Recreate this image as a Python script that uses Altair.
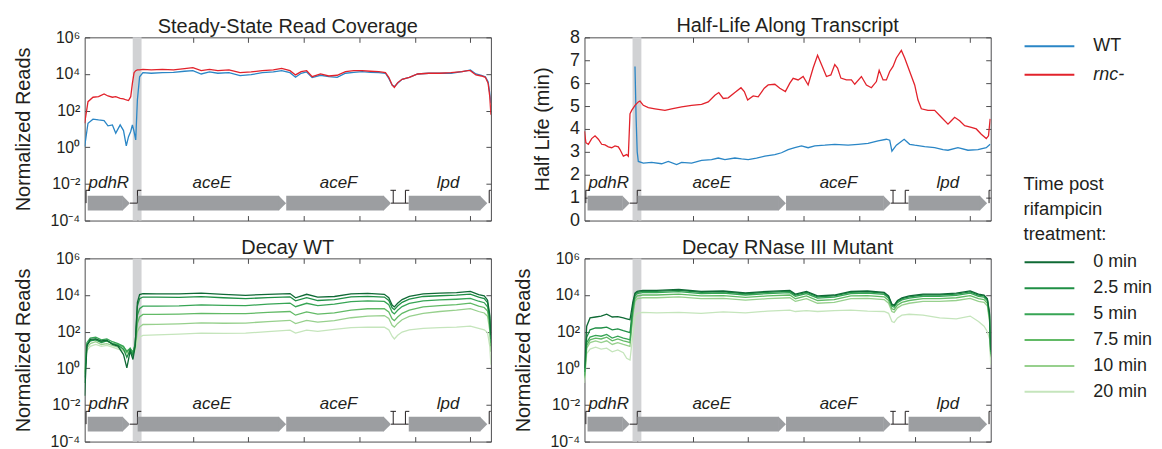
import altair as alt
import pandas as pd

FONT = "Liberation Sans"
TXT = "#231f20"
FRAME = "#4d4d4f"
BLUE = "#2a86c6"
RED = "#e2222b"
GREY = "#9c9ea1"
BAND = "#d1d2d4"
GREENS = ["#0f6a35", "#1f8f45", "#37a555", "#62ba66", "#97d08d", "#c5e5bc"]

# ---------------- labels / annotation data ----------------
strain_labels = ["WT", "rnc-"]
time_labels = ["0 min", "2.5 min", "5 min", "7.5 min", "10 min", "20 min"]
panel_titles = ["Steady-State Read Coverage", "Half-Life Along Transcript",
                "Decay WT", "Decay RNase III Mutant"]

gene_names = ["pdhR", "aceE", "aceF", "lpd"]
gene_start = [55, 955, 3632, 5840]
gene_end = [815, 3630, 5520, 7255]
band_start = [866]
band_end = [1025]
linker_start = [815, 5520]
linker_end = [955, 5840]
promoter_pos = [25, 951, 5780]
terminator_pos = [5560]
end_mark_pos = [7290]
x_ticks = [950, 1950, 2950, 3950, 4950, 5950, 6950]
log_ticks = [1e-4, 1e-2, 1, 1e2, 1e4, 1e6]
hl_ticks = [0, 1, 2, 3, 4, 5, 6, 7, 8]

# ---------------- Steady state (log10 normalized reads) ----------------
tl_x = [0, 60, 150, 250, 350, 420, 500, 560, 640, 700,
        750, 790, 830, 860, 890, 920, 950, 990, 1050, 1200,
        1400, 1600, 1800, 1950, 2100, 2250, 2400, 2600, 2800, 3000,
        3200, 3400, 3550, 3700, 3800, 3900, 4000, 4100, 4250, 4400,
        4550, 4700, 4850, 5000, 5150, 5300, 5420, 5480, 5540, 5580,
        5640, 5720, 5850, 6000, 6200, 6400, 6600, 6800, 6900, 6950,
        7050, 7150, 7220, 7270, 7300, 7320]
tl_rnc = [1.31, 2.49, 2.73, 2.76, 2.91, 2.80, 2.73, 2.76, 2.67, 2.64,
          2.58, 2.55, 2.76, 3.49, 4.07, 4.18, 4.22, 4.22, 4.25, 4.22,
          4.25, 4.22, 4.29, 4.35, 4.18, 4.25, 4.18, 4.22, 4.07, 4.11,
          4.18, 4.22, 4.31, 4.18, 3.95, 4.13, 4.18, 3.85, 4.00, 3.89,
          3.93, 4.13, 4.18, 4.18, 4.15, 4.13, 4.07, 3.82, 3.40, 3.27,
          3.53, 3.71, 3.82, 4.00, 4.04, 4.04, 4.07, 4.13, 4.18, 4.18,
          3.95, 3.89, 3.82, 3.49, 2.76, 1.77]
tl_wt = [0.04, 1.31, 1.53, 1.49, 1.46, 1.17, 1.22, 0.77, 1.22, 0.91,
         0.08, 0.58, 0.86, 1.22, 0.86, 0.40, 2.58, 3.85, 4.07, 4.04,
         4.07, 4.09, 4.15, 4.18, 4.00, 4.11, 4.04, 4.07, 3.91, 3.96,
         4.07, 4.11, 4.18, 4.07, 3.82, 4.04, 4.11, 3.80, 3.93, 3.85,
         3.82, 4.04, 4.09, 4.13, 4.09, 4.07, 4.04, 3.76, 3.40, 3.31,
         3.49, 3.71, 3.82, 4.00, 4.04, 4.04, 4.04, 4.13, 4.18, 4.22,
         4.00, 3.93, 3.85, 3.58, 2.95, 2.40]

# ---------------- Half-life (min) ----------------
tr_rnc_x = [0, 25, 70, 130, 190, 250, 310, 370, 430, 490,
            550, 610, 640, 700, 760, 790, 820, 850, 910, 970,
            1000, 1060, 1150, 1270, 1450, 1570, 1750, 1930, 2110, 2230,
            2350, 2420, 2500, 2590, 2710, 2820, 2880, 2940, 3040, 3130,
            3240, 3310, 3430, 3520, 3620, 3700, 3760, 3850, 3940, 4030,
            4120, 4200, 4270, 4360, 4440, 4510, 4560, 4620, 4720, 4810,
            4870, 4990, 5080, 5170, 5260, 5310, 5380, 5440, 5500, 5560,
            5620, 5710, 5770, 5860, 5950, 6010, 6070, 6190, 6310, 6430,
            6550, 6610, 6670, 6760, 6850, 6970, 7060, 7150, 7240, 7280,
            7310]
tr_rnc = [3.90, 3.40, 3.33, 3.58, 3.70, 3.55, 3.33, 3.30, 3.22, 3.18,
          3.26, 3.22, 3.10, 2.81, 2.88, 2.81, 4.66, 4.81, 5.03, 5.18,
          5.22, 5.03, 4.93, 4.88, 4.81, 4.88, 4.96, 5.03, 5.07, 5.18,
          5.47, 5.59, 5.33, 5.36, 5.59, 5.80, 5.63, 5.26, 5.44, 5.40,
          5.78, 5.92, 5.95, 5.78, 5.63, 6.00, 6.21, 6.14, 6.29, 5.92,
          6.66, 7.22, 6.81, 6.29, 6.36, 6.81, 6.66, 6.22, 6.14, 6.14,
          5.95, 6.29, 5.92, 5.80, 6.07, 6.56, 6.14, 6.14, 6.51, 6.73,
          7.10, 7.43, 7.10, 6.51, 5.92, 5.26, 4.88, 4.81, 4.81, 4.51,
          4.21, 4.36, 4.51, 4.36, 4.14, 4.07, 4.00, 3.77, 3.58, 3.70,
          4.44]
tr_wt_x = [910, 930, 950, 970, 1060, 1210, 1390, 1510, 1660, 1750,
           1930, 2110, 2290, 2410, 2530, 2710, 2830, 2950, 3100, 3250,
           3430, 3550, 3670, 3790, 3910, 4030, 4150, 4330, 4510, 4750,
           4930, 5110, 5290, 5440, 5500, 5540, 5620, 5760, 5860, 5950,
           6130, 6310, 6460, 6550, 6730, 6910, 7090, 7240, 7310]
tr_wt = [6.73, 4.50, 3.00, 2.58, 2.51, 2.54, 2.48, 2.58, 2.44, 2.54,
         2.51, 2.63, 2.66, 2.73, 2.66, 2.73, 2.69, 2.66, 2.73, 2.81,
         2.88, 2.96, 3.10, 3.18, 3.26, 3.18, 3.26, 3.29, 3.33, 3.29,
         3.33, 3.37, 3.48, 3.55, 3.51, 3.03, 3.29, 3.55, 3.33, 3.29,
         3.23, 3.18, 3.10, 3.07, 3.18, 3.07, 3.10, 3.18, 3.33]

# ---------------- Decay time courses (log10 normalized reads) ----------------
dec_x = [0, 40, 100, 200, 300, 400, 500, 600, 700, 760,
         820, 870, 910, 950, 990, 1050, 1300, 1700, 2100, 2500,
         2900, 3300, 3700, 3800, 4000, 4200, 4500, 4800, 5100, 5400,
         5480, 5540, 5580, 5640, 5720, 5850, 6100, 6400, 6700, 6950,
         7100, 7200, 7260, 7300, 7320]

wt_0 = [-1.50, 1.21, 1.58, 1.61, 1.49, 1.54, 1.30, 1.21, 0.75, 0.02,
        0.94, 0.48, 1.21, 3.60, 4.02, 4.07, 4.06, 4.06, 4.10, 4.04,
        3.98, 4.04, 4.08, 3.85, 4.04, 3.88, 3.92, 4.06, 4.09, 4.04,
        3.85, 3.45, 3.35, 3.55, 3.75, 3.92, 4.06, 4.10, 4.13, 4.20,
        4.02, 3.95, 3.72, 2.90, 1.80]
wt_2_5 = [-0.80, 1.30, 1.50, 1.55, 1.40, 1.50, 1.35, 1.25, 1.05, 0.60,
          1.00, 0.70, 1.30, 3.40, 3.80, 3.89, 3.88, 3.87, 3.91, 3.85,
          3.80, 3.86, 3.90, 3.68, 3.86, 3.70, 3.75, 3.90, 3.93, 3.89,
          3.70, 3.30, 3.20, 3.40, 3.60, 3.77, 3.92, 3.96, 3.99, 4.05,
          3.88, 3.80, 3.58, 2.78, 1.60]
wt_5 = [-0.50, 1.40, 1.65, 1.70, 1.55, 1.60, 1.45, 1.35, 1.20, 0.90,
        1.10, 0.85, 1.35, 2.90, 3.25, 3.39, 3.39, 3.41, 3.46, 3.43,
        3.42, 3.50, 3.56, 3.36, 3.55, 3.42, 3.50, 3.64, 3.68, 3.65,
        3.47, 3.07, 2.97, 3.17, 3.37, 3.54, 3.68, 3.73, 3.77, 3.82,
        3.66, 3.58, 3.36, 2.58, 1.40]
wt_7_5 = [-0.30, 1.30, 1.50, 1.60, 1.45, 1.50, 1.35, 1.30, 1.15, 0.95,
          1.05, 0.90, 1.25, 2.45, 2.80, 2.94, 2.94, 2.96, 3.00, 2.98,
          2.98, 3.05, 3.10, 2.90, 3.08, 2.96, 3.02, 3.18, 3.25, 3.25,
          3.08, 2.70, 2.60, 2.80, 3.00, 3.18, 3.35, 3.42, 3.48, 3.56,
          3.40, 3.32, 3.12, 2.36, 1.20]
wt_10 = [-0.20, 1.10, 1.35, 1.45, 1.30, 1.35, 1.25, 1.15, 1.00, 0.85,
         0.95, 0.80, 1.10, 2.00, 2.25, 2.39, 2.40, 2.43, 2.48, 2.46,
         2.47, 2.55, 2.62, 2.44, 2.62, 2.52, 2.60, 2.76, 2.85, 2.88,
         2.72, 2.35, 2.25, 2.45, 2.65, 2.83, 3.00, 3.10, 3.17, 3.26,
         3.10, 3.02, 2.84, 2.05, 0.90]
wt_20 = [-0.10, 0.95, 1.20, 1.30, 1.20, 1.25, 1.15, 1.05, 0.95, 0.80,
         0.90, 0.75, 0.95, 1.45, 1.70, 1.80, 1.82, 1.86, 1.92, 1.91,
         1.92, 2.00, 2.08, 1.92, 2.08, 2.02, 2.12, 2.22, 2.25, 2.24,
         2.10, 1.75, 1.60, 1.80, 1.98, 2.10, 2.18, 2.22, 2.25, 2.30,
         2.18, 2.10, 1.95, 1.20, 0.20]

rnc_0 = [0.00, 2.30, 2.75, 2.80, 2.85, 2.95, 2.80, 2.82, 2.75, 2.70,
         2.65, 3.60, 4.10, 4.20, 4.22, 4.25, 4.25, 4.30, 4.20, 4.22,
         4.12, 4.20, 4.25, 4.05, 4.20, 3.95, 4.00, 4.20, 4.22, 4.15,
         3.95, 3.50, 3.45, 3.70, 3.85, 3.95, 4.05, 4.05, 4.10, 4.22,
         4.05, 4.00, 3.80, 3.00, 1.00]
rnc_2_5 = [-0.20, 1.70, 2.10, 2.20, 2.20, 2.25, 2.10, 2.15, 2.05, 2.00,
           1.95, 3.40, 4.05, 4.15, 4.17, 4.20, 4.20, 4.25, 4.15, 4.17,
           4.07, 4.15, 4.20, 4.00, 4.15, 3.90, 3.95, 4.15, 4.17, 4.10,
           3.90, 3.45, 3.40, 3.65, 3.80, 3.90, 4.00, 4.00, 4.05, 4.17,
           4.00, 3.95, 3.75, 2.90, 0.90]
rnc_5 = [-0.40, 1.40, 1.70, 1.80, 1.75, 1.85, 1.65, 1.75, 1.65, 1.60,
         1.55, 3.20, 3.95, 4.08, 4.10, 4.13, 4.13, 4.18, 4.08, 4.10,
         4.00, 4.08, 4.13, 3.93, 4.08, 3.83, 3.88, 4.08, 4.10, 4.03,
         3.83, 3.38, 3.33, 3.58, 3.73, 3.83, 3.93, 3.93, 3.98, 4.10,
         3.93, 3.88, 3.68, 2.80, 0.80]
rnc_7_5 = [-0.50, 1.25, 1.55, 1.65, 1.60, 1.70, 1.50, 1.60, 1.50, 1.45,
           1.40, 3.00, 3.80, 3.95, 3.97, 4.00, 4.00, 4.05, 3.95, 3.97,
           3.87, 3.95, 4.00, 3.80, 3.95, 3.70, 3.75, 3.95, 3.97, 3.90,
           3.70, 3.25, 3.20, 3.45, 3.60, 3.70, 3.80, 3.80, 3.85, 3.97,
           3.80, 3.75, 3.55, 2.65, 0.70]
rnc_10 = [-0.60, 1.10, 1.40, 1.50, 1.40, 1.50, 1.30, 1.40, 1.30, 1.25,
          1.20, 2.80, 3.65, 3.80, 3.82, 3.85, 3.85, 3.90, 3.80, 3.82,
          3.72, 3.80, 3.85, 3.65, 3.80, 3.55, 3.60, 3.80, 3.82, 3.75,
          3.55, 3.10, 3.05, 3.30, 3.45, 3.55, 3.65, 3.65, 3.70, 3.82,
          3.65, 3.60, 3.40, 2.50, 0.60]
rnc_20 = [-0.80, 0.80, 1.05, 1.15, 1.05, 1.10, 0.90, 1.00, 0.85, 0.55,
          0.45, 1.80, 2.85, 3.00, 3.02, 3.05, 3.02, 3.05, 3.00, 3.08,
          3.02, 3.12, 3.18, 3.10, 3.15, 3.10, 3.15, 3.18, 3.12, 3.10,
          3.00, 2.55, 2.50, 2.75, 2.90, 2.95, 2.90, 2.75, 2.70, 2.85,
          2.55, 2.30, 2.00, 1.60, 0.20]

wt_decay = [wt_0, wt_2_5, wt_5, wt_7_5, wt_10, wt_20]
rnc_decay = [rnc_0, rnc_2_5, rnc_5, rnc_7_5, rnc_10, rnc_20]


def series_df(x, y, label, log=True):
    assert len(x) == len(y), label
    vals = [10 ** v for v in y] if log else list(y)
    return pd.DataFrame({"pos": x, "val": vals, "series": label})


tl_df = pd.concat([series_df(tl_x, tl_wt, "WT"), series_df(tl_x, tl_rnc, "rnc-")])
tr_df = pd.concat([series_df(tr_wt_x, tr_wt, "WT", False),
                   series_df(tr_rnc_x, tr_rnc, "rnc-", False)])
bl_df = pd.concat([series_df(dec_x, v, t) for t, v in reversed(list(zip(time_labels, wt_decay)))])
br_df = pd.concat([series_df(dec_x, v, t) for t, v in reversed(list(zip(time_labels, rnc_decay)))])

# ---------------- shared scales / axes ----------------
XS = alt.Scale(domain=[0, 7320], nice=False, zero=False)
TRACK_LO, TRACK_HI, TRACK_MID, MARK_TOP, LABEL_Y = 0.055, 0.135, 0.095, 0.165, 0.205
HEAD = "M-1,-1L0,0L-1,1Z"

LOG_EXPR = ("datum.value > 1e5 ? '10⁶' : datum.value > 1e3 ? '10⁴' : datum.value > 10 ? '10²' : "
            "datum.value > 0.1 ? '10⁰' : datum.value > 1e-3 ? '10⁻²' : '10⁻⁴'")

tick_style = dict(offset=-5, tickSize=5, domain=False, grid=False, tickColor=FRAME, tickWidth=1,
                  minExtent=0)


def x_axis(orient):
    return alt.Axis(orient=orient, values=x_ticks, labels=False, title=None, **tick_style)


def y_axis_left(title, values, label_expr=None, size=16):
    kw = dict(orient="left", title=title, values=values, labelFont=FONT, labelFontSize=size,
              labelColor=TXT, labelPadding=5, labelOverlap=False, titleFont=FONT,
              titleFontSize=20, titleFontWeight="normal", titleColor=TXT, titlePadding=17,
              **tick_style)
    if label_expr:
        kw["labelExpr"] = label_expr
    return alt.Axis(**kw)


def y_axis_right(values):
    return alt.Axis(orient="right", values=values, labels=False, title=None, **tick_style)


def gene_track():
    gs = alt.Scale(domain=[0, 1])
    genes = pd.DataFrame({"gene": gene_names, "start": gene_start, "end": gene_end})
    genes["mid"] = (genes["start"] + genes["end"]) / 2
    ax0 = dict(scale=XS, axis=None)
    linker = alt.Chart(pd.DataFrame({"s": linker_start, "e": linker_end})).mark_rule(
        color=TXT, strokeWidth=1).encode(
        x=alt.X("s:Q", **ax0), x2="e:Q", y=alt.YDatum(TRACK_MID, scale=gs, axis=None))
    vx = promoter_pos + terminator_pos + end_mark_pos
    verts = alt.Chart(pd.DataFrame({"p": vx})).mark_rule(color=TXT, strokeWidth=1).encode(
        x=alt.X("p:Q", **ax0), y=alt.YDatum(TRACK_MID, scale=gs, axis=None),
        y2=alt.Y2Datum(MARK_TOP))
    hs = promoter_pos + [p - 50 for p in terminator_pos] + [p for p in end_mark_pos]
    he = [p + 70 for p in promoter_pos] + [p + 50 for p in terminator_pos] + [7318 for p in end_mark_pos]
    horiz = alt.Chart(pd.DataFrame({"s": hs, "e": he})).mark_rule(color=TXT, strokeWidth=1).encode(
        x=alt.X("s:Q", **ax0), x2="e:Q", y=alt.YDatum(MARK_TOP, scale=gs, axis=None))
    body = alt.Chart(genes).mark_rect(color=GREY, x2Offset=-7).encode(
        x=alt.X("start:Q", **ax0), x2="end:Q",
        y=alt.YDatum(TRACK_LO, scale=gs, axis=None), y2=alt.Y2Datum(TRACK_HI))
    head = alt.Chart(genes).mark_point(shape=HEAD, size=216, filled=True, opacity=1,
                                       color=GREY, strokeWidth=0).encode(
        x=alt.X("end:Q", **ax0), y=alt.YDatum(TRACK_MID, scale=gs, axis=None))
    labels = alt.Chart(genes).mark_text(font=FONT, fontSize=17, fontStyle="italic",
                                        color=TXT, baseline="middle").encode(
        x=alt.X("mid:Q", **ax0), y=alt.YDatum(LABEL_Y, scale=gs, axis=None), text="gene:N")
    return [linker, verts, horiz, body, head, labels]


def panel(df, title, ys, left_axis, right_vals, color, extra=None):
    band = alt.Chart(pd.DataFrame({"s": band_start, "e": band_end})).mark_rect(color=BAND).encode(
        x=alt.X("s:Q", scale=XS, axis=x_axis("bottom")), x2="e:Q")
    lines = alt.Chart(df).mark_line(strokeWidth=1.3, clip=True).encode(
        x=alt.X("pos:Q", scale=XS, axis=None),
        y=alt.Y("val:Q", scale=ys, axis=left_axis),
        color=color)
    axes = alt.Chart(df).mark_line(opacity=0).encode(
        x=alt.X("pos:Q", scale=XS, axis=x_axis("top")),
        y=alt.Y("val:Q", scale=ys, axis=y_axis_right(right_vals)))
    layers = [band] + gene_track() + [lines, axes]
    if extra is not None:
        layers.append(extra)
    return alt.layer(*layers).resolve_scale(y="independent").resolve_axis(
        x="independent", y="independent").properties(
        width=408, height=184,
        title=alt.TitleParams(title, font=FONT, fontSize=20, fontWeight="normal",
                              color=TXT, anchor="middle", offset=3, dy=11))


LOG_S = alt.Scale(type="log", domain=[1e-4, 1e6], nice=False)
HL_S = alt.Scale(domain=[0, 8], nice=False, zero=False)

strain_scale = alt.Scale(domain=strain_labels, range=[BLUE, RED])
time_scale = alt.Scale(domain=time_labels, range=GREENS)

leg_common = dict(orient="none", symbolType="M-2.5,0L2.5,0", symbolSize=400, symbolStrokeWidth=2,
                  symbolOffset=15, labelFont=FONT, labelFontSize=18, labelColor=TXT,
                  labelOffset=33, padding=0)

strain_legend = alt.Legend(title=None, legendX=441, legendY=-2, rowPadding=8.5,
                           labelFontStyle={"expr": "datum.label === 'rnc-' ? 'italic' : 'normal'"},
                           **leg_common)
time_legend = alt.Legend(title=["Time post", "rifampicin", "treatment:"], titleFont=FONT,
                         titleFontSize=18.5, titleFontWeight="normal", titleColor=TXT,
                         titleLineHeight=25, titlePadding=8, titleAnchor="start",
                         legendX=441, legendY=138.5, rowPadding=6, **leg_common)

# empty layer that only carries the time-point legend
time_key = alt.Chart(bl_df).mark_line().encode(
    x=alt.X("pos:Q", scale=XS, axis=None),
    y=alt.Y("val:Q", scale=LOG_S, axis=None),
    stroke=alt.Stroke("series:N", scale=time_scale, legend=time_legend)
).transform_filter("false")

tl = panel(tl_df, panel_titles[0], LOG_S,
           y_axis_left("Normalized Reads", log_ticks, LOG_EXPR), log_ticks,
           alt.Color("series:N", scale=strain_scale, legend=None))
tr = panel(tr_df, panel_titles[1], HL_S,
           y_axis_left("Half Life (min)", hl_ticks, None, 18), hl_ticks,
           alt.Color("series:N", scale=strain_scale, legend=strain_legend), extra=time_key)
bl = panel(bl_df, panel_titles[2], LOG_S,
           y_axis_left("Normalized Reads", log_ticks, LOG_EXPR), log_ticks,
           alt.Color("series:N", scale=time_scale, legend=None))
br = panel(br_df, panel_titles[3], LOG_S,
           y_axis_left("Normalized Reads", log_ticks, LOG_EXPR), log_ticks,
           alt.Color("series:N", scale=time_scale, legend=None))

chart = alt.concat(tl, tr, bl, br, columns=2, spacing={"row": 38, "column": 94},
                   bounds="flush").resolve_scale(
    x="independent", y="independent", color="independent", stroke="independent").properties(
    padding={"left": 4, "top": 6.5, "right": 0, "bottom": 0}).configure_view(
    stroke=FRAME, strokeWidth=1)

chart.save("out.html", embed_options={"renderer": "svg", "actions": False})
